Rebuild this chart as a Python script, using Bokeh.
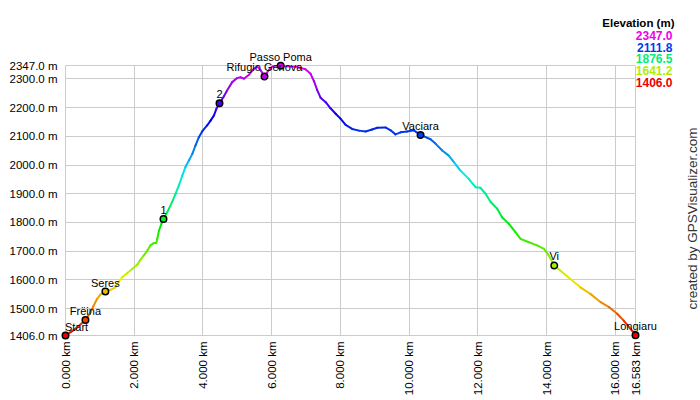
import colorsys
from math import pi

from bokeh.plotting import figure
from bokeh.models import ColumnDataSource, Range1d, FixedTicker, LinearColorMapper
from bokeh.transform import transform
from bokeh.core.properties import value
from bokeh.embed import file_html
from bokeh.resources import INLINE

dist_km = [0.00, 0.15, 0.30, 0.45, 0.58, 0.73, 0.82, 0.92, 1.02, 1.16,
           1.31, 1.45, 1.50, 1.65, 1.79, 1.94, 2.09, 2.18, 2.28, 2.38,
           2.47, 2.57, 2.64, 2.67, 2.72, 2.79, 2.85, 2.96, 3.10, 3.20,
           3.30, 3.40, 3.49, 3.59, 3.69, 3.78, 3.88, 3.98, 4.12, 4.22,
           4.32, 4.39, 4.48, 4.61, 4.70, 4.85, 4.99, 5.09, 5.19, 5.34,
           5.48, 5.58, 5.68, 5.79, 5.92, 6.03, 6.12, 6.26, 6.45, 6.70,
           6.84, 6.98, 7.13, 7.23, 7.32, 7.42, 7.57, 7.71, 7.86, 8.00,
           8.15, 8.34, 8.54, 8.73, 8.92, 9.07, 9.31, 9.46, 9.60, 9.75,
           9.94, 10.13, 10.33, 10.62, 10.77, 10.96, 11.15, 11.30, 11.49, 11.73,
           11.93, 12.07, 12.22, 12.37, 12.56, 12.70, 12.90, 13.09, 13.24, 13.48,
           13.72, 13.92, 14.06, 14.22, 14.40, 14.69, 14.98, 15.27, 15.57, 15.81,
           16.05, 16.24, 16.44, 16.583]
elev_m = [1406, 1418, 1430, 1446, 1460, 1487, 1510, 1534, 1549, 1559,
          1565, 1574, 1586, 1609, 1623, 1638, 1653, 1670, 1685, 1702,
          1720, 1728, 1728, 1743, 1772, 1795, 1812, 1836, 1871, 1900,
          1929, 1964, 1993, 2016, 2039, 2068, 2097, 2118, 2138, 2155,
          2173, 2196, 2215, 2240, 2260, 2289, 2303, 2306, 2301, 2315,
          2335, 2343, 2330, 2309, 2332, 2345, 2347, 2346, 2344, 2343,
          2338, 2334, 2318, 2292, 2262, 2235, 2219, 2198, 2179, 2162,
          2140, 2126, 2120, 2117, 2124, 2130, 2131, 2121, 2107, 2114,
          2117, 2121, 2105, 2090, 2074, 2051, 2033, 2010, 1981, 1952,
          1923, 1921, 1900, 1871, 1848, 1818, 1795, 1766, 1743, 1731,
          1720, 1708, 1685, 1650, 1632, 1603, 1574, 1551, 1522, 1505,
          1482, 1458, 1429, 1407]

wp_names = ["Start", "Frëina", "Seres", "1", "2", "Rifugio Genova", "Passo Poma",
            "Vaciara", "Vi", "Longiaru"]
wp_km = [0.0, 0.58, 1.16, 2.85, 4.48, 5.79, 6.26, 10.33, 14.22, 16.583]
wp_m = [1406, 1460, 1559, 1812, 2215, 2309, 2346, 2105, 1650, 1407]

x_ticks = [0, 2, 4, 6, 8, 10, 12, 14, 16, 16.583]
y_ticks = [1406, 1500, 1600, 1700, 1800, 1900, 2000, 2100, 2200, 2300, 2347]
legend_title = "Elevation (m)"
legend_values = [2347.0, 2111.8, 1876.5, 1641.2, 1406.0]
credit = "created by GPSVisualizer.com"

FONT = "Liberation Sans"

# ---- colour scale: hue red -> magenta over the elevation range ----
def hue_color(f):
    r, g, b = colorsys.hsv_to_rgb(f * 300.0 / 360.0, 1.0, 0.93)
    return "#%02x%02x%02x" % (int(r * 255), int(g * 255), int(b * 255))

palette = [hue_color(i / 255.0) for i in range(256)]
lo, hi = min(elev_m), max(elev_m)
x_lo, x_hi = dist_km[0], dist_km[-1]
mapper = LinearColorMapper(palette=palette, low=lo, high=hi)

def color_of(v):
    i = int(round((v - lo) / (hi - lo) * 255))
    return palette[max(0, min(255, i))]

# ---- figure ----
p = figure(width=700, height=400,
           x_range=Range1d(x_lo, x_hi),
           y_range=Range1d(lo, hi),
           output_backend="svg", toolbar_location=None,
           min_border_left=65, min_border_right=65,
           min_border_top=65, min_border_bottom=65,
           background_fill_color="white", border_fill_color="white")

p.outline_line_color = "#cccccc"
p.outline_line_width = 1

for ax in (p.xaxis[0], p.yaxis[0]):
    ax.axis_line_color = None
    ax.major_tick_out = 0
    ax.major_tick_in = 0
    ax.minor_tick_out = 0
    ax.minor_tick_in = 0
    ax.major_label_text_font = FONT
    ax.major_label_text_font_size = "11.5px"
    ax.major_label_text_color = "black"

p.xaxis.major_label_standoff = 6
p.yaxis.major_label_standoff = 8
p.xaxis.ticker = FixedTicker(ticks=x_ticks)
p.xaxis.major_label_overrides = {t: "%.3f km" % t for t in x_ticks}
p.xaxis.major_label_orientation = pi / 2
p.yaxis.ticker = FixedTicker(ticks=y_ticks)
p.yaxis.major_label_overrides = {t: "%.1f m" % t for t in y_ticks}

p.xgrid.ticker = FixedTicker(ticks=x_ticks)
p.ygrid.ticker = FixedTicker(ticks=y_ticks)
p.grid.grid_line_color = "#cccccc"
p.grid.grid_line_width = 1

# ---- profile line, coloured by elevation ----
seg = ColumnDataSource(dict(
    x0=dist_km[:-1], x1=dist_km[1:],
    y0=elev_m[:-1], y1=elev_m[1:],
    ym=[(a + b) / 2.0 for a, b in zip(elev_m[:-1], elev_m[1:])],
))
p.segment(x0="x0", y0="y0", x1="x1", y1="y1", source=seg,
          line_color=transform("ym", mapper), line_width=2, line_cap="round")

# ---- waypoints ----
wp = ColumnDataSource(dict(
    km=wp_km, m=wp_m, name=wp_names,
    xoff=[11 if n == "Start" else 0 for n in wp_names],
))
p.scatter(x="km", y="m", source=wp, size=6.5, marker="circle",
          fill_color=transform("m", mapper), line_color="black", line_width=1.5,
          level="overlay")
p.text(x="km", y="m", text="name", source=wp, x_offset="xoff", y_offset=-9,
       text_align="center", text_baseline="middle",
       text_font=value(FONT), text_font_size="11px", text_color="black",
       level="overlay")

# ---- elevation colour legend (top right, anchored at the frame's top-right corner) ----
p.text(x=[x_hi], y=[hi], text=[legend_title], x_offset=39, y_offset=-43,
       text_align="right", text_baseline="middle",
       text_font=value(FONT), text_font_size="11.5px", text_font_style="bold",
       text_color="black", level="overlay")
leg = ColumnDataSource(dict(
    x=[x_hi] * len(legend_values), y=[hi] * len(legend_values),
    txt=["%.1f" % v for v in legend_values],
    col=[color_of(v) for v in legend_values],
    yoff=[-30 + 11.7 * i for i in range(len(legend_values))],
))
p.text(x="x", y="y", text="txt", source=leg, x_offset=37, y_offset="yoff",
       text_align="right", text_baseline="middle",
       text_font=value(FONT), text_font_size="12px", text_font_style="bold",
       text_color="col", level="overlay")

# ---- credit (anchored at the frame's bottom-right corner) ----
p.text(x=[x_hi], y=[lo], text=[credit], x_offset=57, y_offset=-117,
       angle=pi / 2, text_align="center", text_baseline="middle",
       text_font=value(FONT), text_font_size="13.5px", text_color="#333333",
       level="overlay")

open("out.html", "w").write(file_html(p, INLINE))
